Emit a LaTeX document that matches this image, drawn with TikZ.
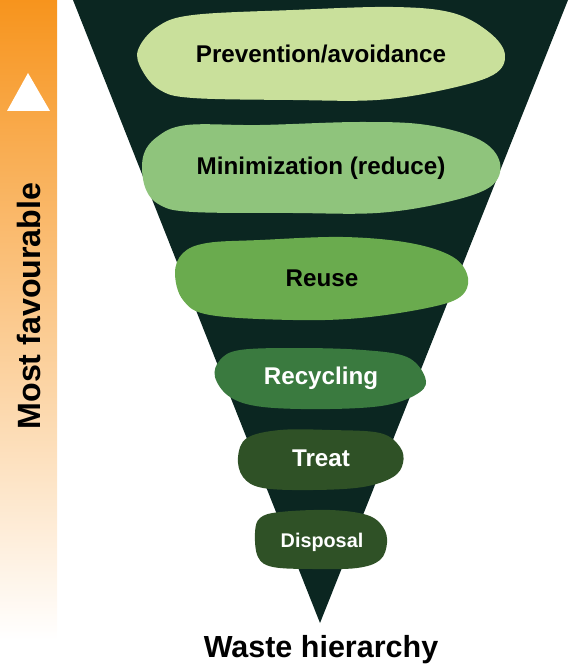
\documentclass[tikz,border=0pt]{standalone}
\usepackage{fontspec}
\setmainfont{Liberation Sans}
\definecolor{darktri}{HTML}{0B2621}
\definecolor{orangetop}{HTML}{F7941D}
\definecolor{cPrev}{HTML}{C9E09B}
\definecolor{cMin}{HTML}{8FC47C}
\definecolor{cReuse}{HTML}{6AAB4E}
\definecolor{cRecy}{HTML}{3A7A3F}
\definecolor{cTreat}{HTML}{2F5126}
\definecolor{cDisp}{HTML}{2F5126}
\tikzset{
  blob/.style={draw=none},
  lbl/.style={font=\bfseries\fontsize{24.2}{27}\selectfont, anchor=base, inner sep=0pt},
}
\begin{document}
\begin{tikzpicture}[x=1pt,y=-1pt]
\useasboundingbox (0,0) rectangle (570,668);
% gradient bar
\shade[top color=orangetop, bottom color=white, draw=none] (0,0) rectangle (57,640);
\fill[white] (7,111) -- (28,73) -- (50,111) -- cycle;
\node[font=\bfseries\fontsize{32.2}{35}\selectfont, rotate=90, anchor=base, inner sep=0pt] (most) at (40,306) {Most favourable};
% dark funnel
\fill[darktri] (73,0) -- (568,0) -- (320,623) -- cycle;
% blobs
\fill[cPrev] plot[smooth cycle, tension=0.6] coordinates {(138,50) (157,27) (193,15) (293,10) (393,7) (453,13) (490,33) (505,55) (493,75) (443,90) (377,100) (293,100) (193,98) (160,90) (142,70)};
\fill[cMin] plot[smooth cycle, tension=0.6] coordinates {(143,157) (157,137) (187,125) (260,125) (360,122) (427,125) (480,140) (500,163) (490,187) (443,203) (377,213) (293,213) (193,212) (160,205) (145,187)};
\fill[cReuse] plot[smooth cycle, tension=0.6] coordinates {(175,273) (183,253) (207,243) (260,240) (343,237) (410,243) (453,257) (468,278) (460,297) (427,308) (360,318) (293,320) (210,315) (183,300)};
\fill[cRecy] plot[smooth cycle, tension=0.6] coordinates {(215,377) (220,360) (240,350) (297,348) (363,350) (407,357) (425,377) (420,392) (387,405) (330,409) (263,407) (230,397)};
\fill[cTreat] plot[smooth cycle, tension=0.6] coordinates {(238,457) (247,438) (280,430) (330,430) (380,433) (400,447) (403,463) (393,477) (363,487) (313,490) (263,488) (243,477)};
\fill[cDisp] plot[smooth cycle, tension=0.6] coordinates {(255,533) (260,518) (280,512) (330,510) (367,515) (383,527) (387,543) (380,560) (357,568) (313,569) (273,567) (258,557)};
% labels
\node[lbl] (prev) at (321,63) {Prevention/avoidance};
\node[lbl] (mini) at (321,175) {Minimization (reduce)};
\node[lbl] (reuse) at (322,286) {Reuse};
\node[lbl, text=white] (recy) at (321,384) {Recycling};
\node[lbl, text=white] (treat) at (321,466) {Treat};
\node[lbl, text=white, font=\bfseries\fontsize{19.8}{22}\selectfont] (disp) at (322,547) {Disposal};
\node[font=\bfseries\fontsize{30.5}{33}\selectfont, anchor=base, inner sep=0pt] (title) at (321,657) {Waste hierarchy};
\end{tikzpicture}
\end{document}
